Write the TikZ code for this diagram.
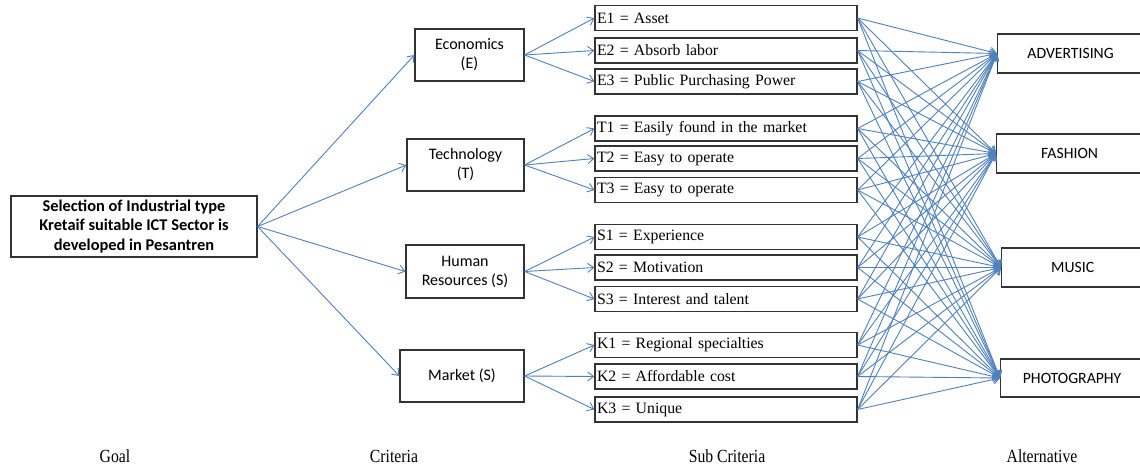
\documentclass[tikz,border=0pt]{standalone}
\usepackage{fontspec}
\setmainfont{Liberation Serif}
\newfontfamily\calfont{Carlito}
\usetikzlibrary{arrows.meta}
\definecolor{arrblue}{HTML}{4F81BD}
\definecolor{boxline}{HTML}{333333}
\newcommand\subfnt{\fontsize{15.8}{18}\selectfont\spaceskip=3.2pt\relax}
\tikzset{
  box/.style={draw=boxline, line width=1.2pt, fill=white, inner sep=1pt},
  calbox/.style={box, font=\calfont\fontsize{16}{19}\selectfont, align=center},
  subbox/.style={box, minimum height=25pt, text width=258pt, inner xsep=2pt, align=left,
     font=\subfnt},
  altbox/.style={box, anchor=west, minimum width=146pt, font=\calfont\fontsize{15.7}{18}\selectfont},
  conn/.style={draw=arrblue, line width=0.9pt, -{Straight Barb[length=6pt,width=9pt]}},
  lvl/.style={font=\fontsize{18.5}{20}\selectfont, inner sep=0pt}
}
\begin{document}
\begin{tikzpicture}[x=1pt,y=-1pt]
\useasboundingbox (0,0) rectangle (1140,466);
\clip (0,0) rectangle (1140,466);
\fill[white] (0,0) rectangle (1140,466);
% goal
\node[calbox, minimum width=246pt, minimum height=61pt, font=\calfont\bfseries\fontsize{16.4}{19.5}\selectfont] (g) at (134,226.5)
  {Selection of Industrial type\\Kretaif suitable ICT Sector is\\developed in Pesantren};
% criteria
\node[calbox, minimum width=109pt, minimum height=52pt] (E) at (469.5,55) {Economics\\(E)};
\node[calbox, minimum width=117pt, minimum height=52pt] (T) at (465.5,165) {Technology\\(T)};
\node[calbox, minimum width=118pt, minimum height=53pt] (S) at (465,271.5) {Human\\Resources (S)};
\node[calbox, minimum width=124pt, minimum height=52pt] (K) at (462,376) {Market (S)};
% sub criteria
\node[subbox] (E1) at (726,18) {E1 = Asset};
\node[subbox] (E2) at (726,50.5) {E2 = Absorb labor};
\node[subbox] (E3) at (726,81.5) {E3 = Public Purchasing Power};
\node[subbox] (T1) at (726,128.5) {T1 = Easily found in the market};
\node[subbox] (T2) at (726,158.5) {T2 = Easy to operate};
\node[subbox] (T3) at (726,190) {T3 = Easy to operate};
\node[subbox] (S1) at (726,237) {S1 = Experience};
\node[subbox] (S2) at (726,267.5) {S2 = Motivation};
\node[subbox] (S3) at (726,299) {S3 = Interest and talent};
\node[subbox] (K1) at (726,345) {K1 = Regional specialties};
\node[subbox] (K2) at (726,376.5) {K2 = Affordable cost};
\node[subbox] (K3) at (726,409.5) {K3 = Unique};
% alternatives
\node[altbox, minimum height=39pt] (A1) at (997,53.5) {ADVERTISING};
\node[altbox, minimum height=39pt] (A2) at (996,153.5) {FASHION};
\node[altbox, minimum height=39pt, minimum width=142pt] (A3) at (1001,267.5) {MUSIC};
\node[altbox, minimum height=38pt, minimum width=143pt] (A4) at (1000,378) {PHOTOGRAPHY};
% level labels
\node[lvl] (lg) at (115,456) {\scalebox{0.85}[1]{Goal}};
\node[lvl] (lc) at (394,456) {\scalebox{0.85}[1]{Criteria}};
\node[lvl] (ls) at (727,456) {\scalebox{0.85}[1]{Sub Criteria}};
\node[lvl] (la) at (1042,456) {\scalebox{0.85}[1]{Alternative}};
% connectors
\foreach \c in {E,T,S,K} \draw[conn] (g.east) -- (\c.west);
\foreach \s in {E1,E2,E3} \draw[conn] (E.east) -- (\s.west);
\foreach \s in {T1,T2,T3} \draw[conn] (T.east) -- (\s.west);
\foreach \s in {S1,S2,S3} \draw[conn] (S.east) -- (\s.west);
\foreach \s in {K1,K2,K3} \draw[conn] (K.east) -- (\s.west);
\foreach \s in {E1,E2,E3,T1,T2,T3,S1,S2,S3,K1,K2,K3}
  \foreach \a in {A1,A2,A3,A4}
    \draw[conn] (\s.east) -- (\a.west);
\end{tikzpicture}
\end{document}
